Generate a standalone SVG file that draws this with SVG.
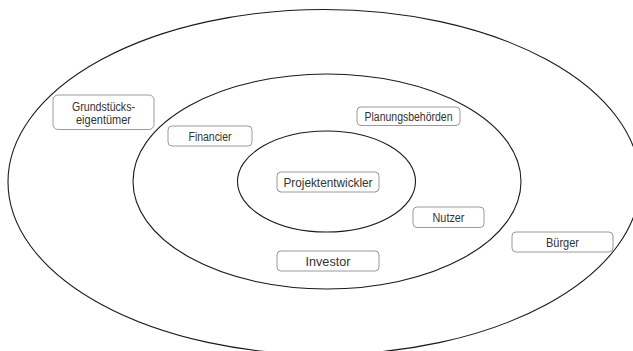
<svg xmlns="http://www.w3.org/2000/svg" width="633" height="351" viewBox="0 0 633 351">
  <style>
    .ring { fill: none; stroke: #1a1a1a; stroke-width: 1.1; }
    .box { fill: #ffffff; stroke: #9a9a9a; stroke-width: 1; }
    .label { font-family: "Liberation Sans", Arial, sans-serif; font-size: 12.5px; fill: #333333; text-anchor: middle; }
  </style>
  <rect width="633" height="351" fill="#ffffff"/>

  <!-- stakeholder rings -->
  <g id="rings">
    <ellipse id="ring-outer" class="ring" cx="324" cy="182" rx="316" ry="172.5"/>
    <ellipse id="ring-middle" class="ring" cx="327" cy="181.5" rx="194" ry="107.5"/>
    <ellipse id="ring-inner" class="ring" cx="326.5" cy="181.5" rx="89" ry="50.5"/>
  </g>

  <g id="connectors"></g>

  <g id="grundstueckseigentuemer">
    <rect class="box" x="53" y="95" width="101" height="34.5" rx="5"/>
    <text class="label" x="103.5" y="110.5" textLength="63" lengthAdjust="spacingAndGlyphs">Grundstücks-</text>
    <text class="label" x="103.5" y="124" textLength="55" lengthAdjust="spacingAndGlyphs">eigentümer</text>
  </g>

  <g id="financier">
    <rect class="box" x="168" y="126" width="84" height="20" rx="4"/>
    <text class="label" x="210" y="140.5" textLength="43" lengthAdjust="spacingAndGlyphs">Financier</text>
  </g>

  <g id="planungsbehoerden">
    <rect class="box" x="357" y="107" width="103" height="18.5" rx="4"/>
    <text class="label" x="408.5" y="120.5" textLength="88" lengthAdjust="spacingAndGlyphs">Planungsbehörden</text>
  </g>

  <g id="projektentwickler">
    <rect class="box" x="277" y="172" width="102" height="20" rx="4"/>
    <text class="label" x="328" y="186.5" textLength="89" lengthAdjust="spacingAndGlyphs">Projektentwickler</text>
  </g>

  <g id="nutzer">
    <rect class="box" x="413" y="207" width="71" height="20.5" rx="4"/>
    <text class="label" x="448.5" y="221.5" textLength="32" lengthAdjust="spacingAndGlyphs">Nutzer</text>
  </g>

  <g id="buerger">
    <rect class="box" x="512" y="232" width="101" height="20" rx="4"/>
    <text class="label" x="562.5" y="246.5" textLength="33" lengthAdjust="spacingAndGlyphs">Bürger</text>
  </g>

  <g id="investor">
    <rect class="box" x="277" y="251" width="102" height="20" rx="4"/>
    <text class="label" x="328" y="265.5" textLength="45" lengthAdjust="spacingAndGlyphs">Investor</text>
  </g>
</svg>
